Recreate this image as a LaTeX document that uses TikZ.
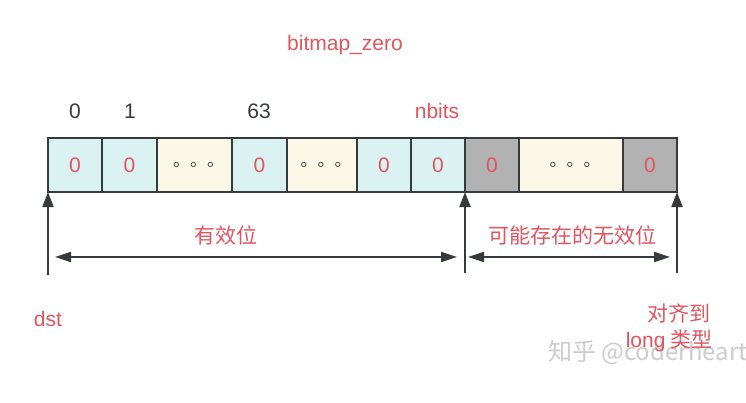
\documentclass[tikz,border=0pt]{standalone}
\usepackage{fontspec}
\setmainfont{Liberation Sans}
\newfontfamily\cjk{Noto Sans CJK SC}
\usetikzlibrary{arrows.meta}
\definecolor{redtxt}{RGB}{226,84,94}
\definecolor{linec}{RGB}{55,58,60}
\definecolor{cyanc}{RGB}{218,242,241}
\definecolor{beigec}{RGB}{251,248,232}
\definecolor{grayc}{RGB}{178,178,178}
\begin{document}
\begin{tikzpicture}[x=1pt,y=-1pt,
  cell/.style={draw=linec, line width=1.6pt, minimum height=54pt, inner sep=0pt, outer sep=0pt,
    font=\fontsize{21}{21}\selectfont, text=redtxt},
  cyancell/.style={cell, fill=cyanc},
  beigecell/.style={cell, fill=beigec, font=\cjk\fontsize{17}{17}\selectfont, text=linec},
  graycell/.style={cell, fill=grayc},
  lbl/.style={font=\fontsize{21}{21}\selectfont, inner sep=0pt, text=linec},
  rlbl/.style={lbl, text=redtxt},
  clbl/.style={font=\cjk\fontsize{21}{21}\selectfont, text=redtxt, inner sep=0pt},
  arr/.style={draw=linec, line width=2pt, -{Triangle[length=15pt,width=11pt]}},
  darr/.style={draw=linec, line width=2pt, {Triangle[length=16pt,width=10pt]}-{Triangle[length=16pt,width=10pt]}}
]
\useasboundingbox (0,0) rectangle (746,402);

% watermark
\node[anchor=west, font=\cjk\fontsize{24}{24}\selectfont, text=black!20, inner sep=0pt] (wm) at (548,352) {知乎 @coderheart};

% title
\node[rlbl] (title) at (345,45) {bitmap\_zero};

% cells
\node[cyancell, minimum width=54pt] (c1) at (75,165) {0};
\node[cyancell, minimum width=55pt] (c2) at (129.5,165) {0};
\node[beigecell, minimum width=75pt] (c3) at (194.5,165) {\hspace*{8pt}。。。};
\node[cyancell, minimum width=55pt] (c4) at (259.5,165) {0};
\node[beigecell, minimum width=70pt] (c5) at (322,165) {\hspace*{8pt}。。。};
\node[cyancell, minimum width=54pt] (c6) at (384,165) {0};
\node[cyancell, minimum width=54pt] (c7) at (438,165) {0};
\node[graycell, minimum width=54pt] (c8) at (492,165) {0};
\node[beigecell, minimum width=104pt] (c9) at (571,165) {\hspace*{8pt}。。。};
\node[graycell, minimum width=54pt] (c10) at (650,165) {0};

% index labels
\node[lbl] (i0) at (75,111) {0};
\node[lbl] (i1) at (130,111) {1};
\node[lbl] (i63) at (259,111) {63};
\node[rlbl] (inb) at (437,111) {nbits};

% vertical arrows
\coordinate (a1) at (48,275);
\coordinate (a2) at (465,273);
\coordinate (a3) at (677,273);
\draw[arr] (a1) -- (c1.south west);
\draw[arr] (a2) -- (c8.south west);
\draw[arr] (a3) -- (c10.south east);

% span arrows
\coordinate (h1) at (55,257);
\coordinate (h2) at (457,257);
\coordinate (h3) at (468,257);
\coordinate (h4) at (670,257);
\draw[darr] (h1) -- (h2);
\draw[darr] (h3) -- (h4);

\node[clbl] (valid) at (226,235) {有效位};
\node[clbl] (invalid) at (572,235) {可能存在的无效位};

\node[rlbl] (dst) at (48,319) {dst};
\node[clbl] (align1) at (679,313) {对齐到};
\node[clbl] (align2) at (669,341) {{\fontspec{Liberation Sans}long} 类型};
\end{tikzpicture}
\end{document}
